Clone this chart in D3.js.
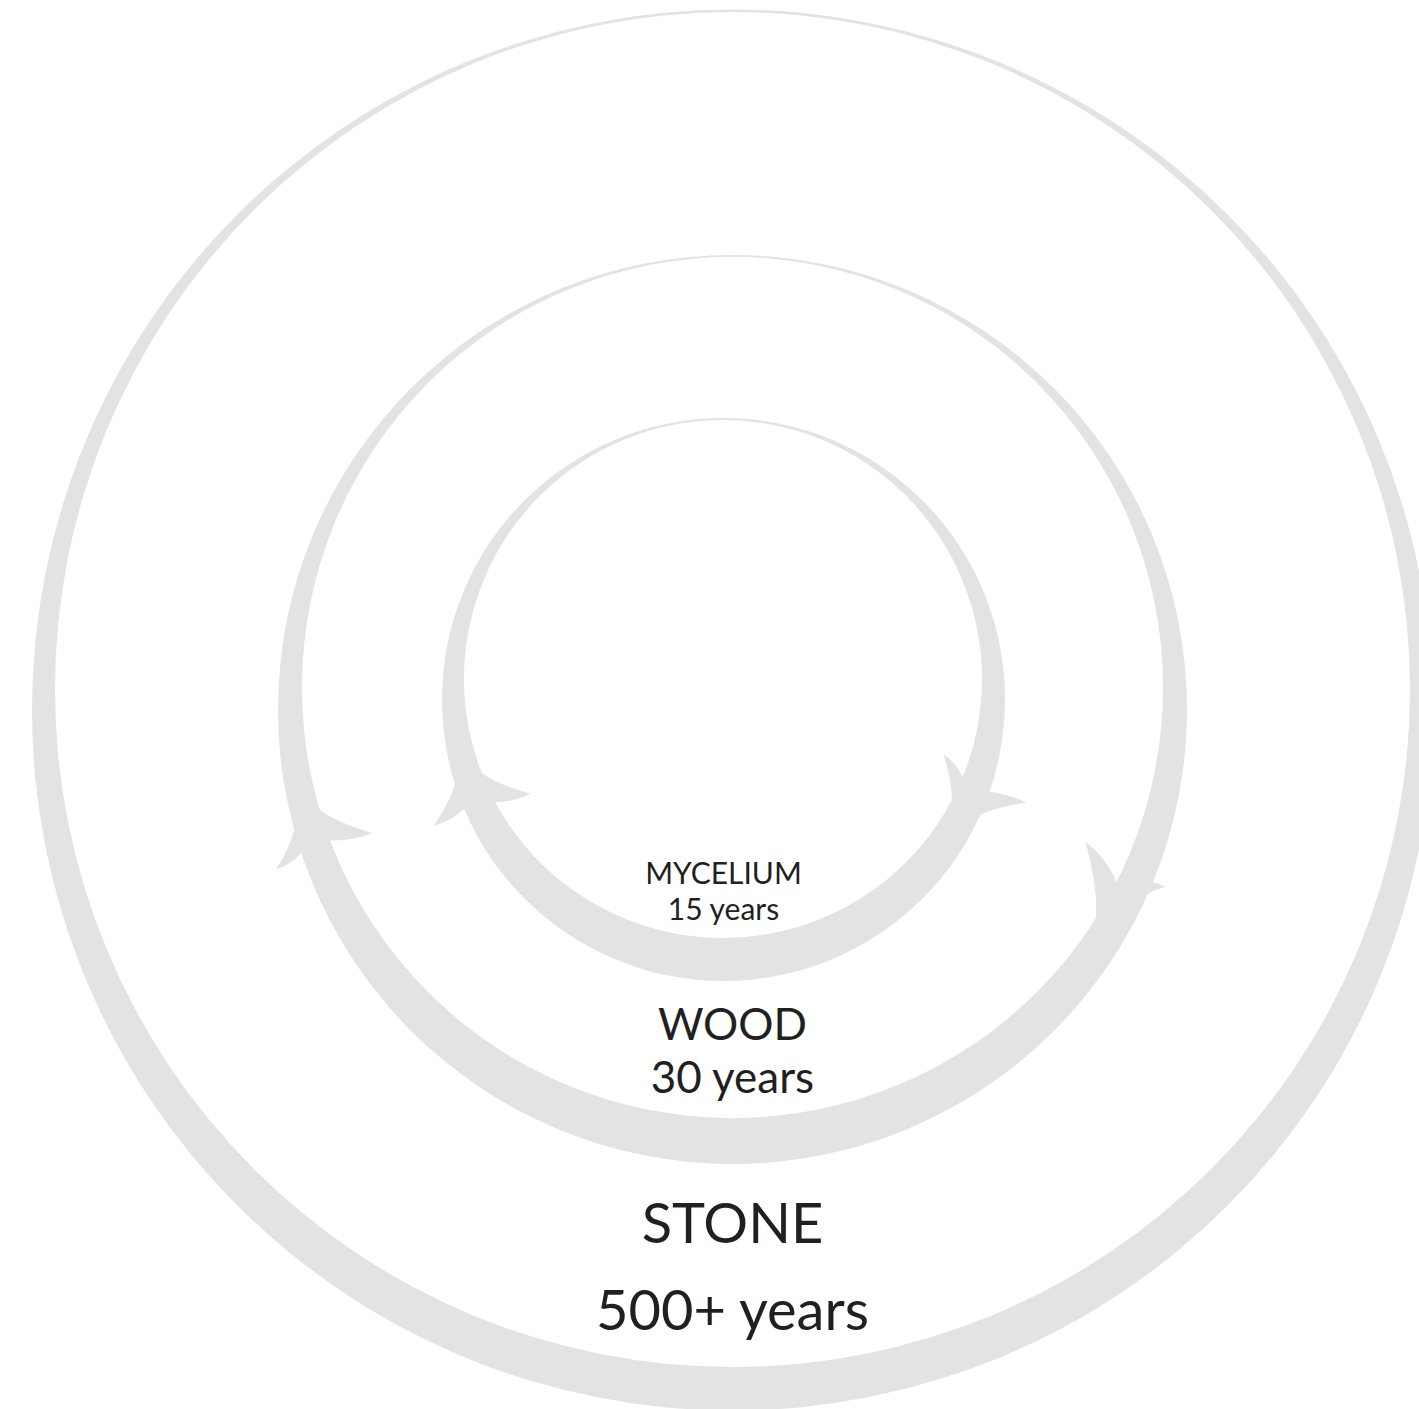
<!DOCTYPE html>
<meta charset="utf-8">
<script src="https://d3js.org/d3.v7.min.js"></script>
<style>
  body { margin: 0; background: #fff; }
</style>
<svg id="my_dataviz" width="1419" height="1409"></svg>

<script>

// Data
var materials = ["MYCELIUM", "WOOD", "STONE"];
var lifespans = ["15 years", "30 years", "500+ years"];
var years = [15, 30, 500];

// Ring layout (outer edge circle / inner edge circle), one per material
var ringOuter = [[723.5, 699.5, 281.5], [732.5, 709.5, 454.5], [732.5, 710, 700.5]];
var ringInner = [[723, 679, 259], [732.5, 687.5, 430.5], [732.5, 689.5, 677.5]];

// Arrow barbs: ring, side (+1 outer edge, -1 inner edge), angle of the front point,
// length of the base along the edge, how far the tip sweeps back and sideways
var barbs = [
  {ring: 0, side:  1, angle: 162.6, base: 27, back: 34, out: 33},
  {ring: 0, side: -1, angle: 163.1, base: 32, back: 37, out: 38},
  {ring: 0, side:  1, angle: 24.2,  base: 25, back: 30, out: 37},
  {ring: 0, side: -1, angle: 23.9,  base: 26, back: 37, out: 29},
  {ring: 1, side:  1, angle: 164.7, base: 25, back: 34, out: 28},
  {ring: 1, side: -1, angle: 166.3, base: 32, back: 37, out: 44},
  {ring: 1, side:  1, angle: 23.9,  base: 12, back: 13, out: 13},
  {ring: 1, side: -1, angle: 29.9,  base: 42, back: 59, out: 50}
];

var svg = d3.select("svg");
var ringColor = "#e3e3e3";
var textColor = "#231f20";

var outerOf = d3.scaleOrdinal().domain(materials).range(ringOuter);
var innerOf = d3.scaleOrdinal().domain(materials).range(ringInner);

function circlePath(c) {
  var p = d3.path();
  p.moveTo(c[0] + c[2], c[1]);
  p.arc(c[0], c[1], c[2], 0, 2 * Math.PI);
  p.closePath();
  return p.toString();
}

// crescent rings
svg.append("g")
  .selectAll("path")
  .data(materials)
  .enter()
  .append("path")
    .attr("d", function(d){ return circlePath(outerOf(d)) + circlePath(innerOf(d)); })
    .attr("fill-rule", "evenodd")
    .attr("fill", ringColor);

// point where a ray from the outer centre hits a circle
function hit(o, c, a) {
  var dx = Math.cos(a), dy = Math.sin(a);
  var px = o[0] - c[0], py = o[1] - c[1];
  var b = dx * px + dy * py;
  var s = -b + Math.sqrt(b * b - (px * px + py * py - c[2] * c[2]));
  return [o[0] + s * dx, o[1] + s * dy];
}

function barbPath(b) {
  var o = ringOuter[b.ring];
  var c = b.side > 0 ? o : ringInner[b.ring];
  var F = hit(o, c, b.angle * Math.PI / 180);
  var a = Math.atan2(F[1] - c[1], F[0] - c[0]);
  var n = [Math.cos(a), Math.sin(a)];
  var t = [-n[1], n[0]];             // direction of flow (clockwise)
  var ar = a - b.base / c[2];
  var R = [c[0] + c[2] * Math.cos(ar), c[1] + c[2] * Math.sin(ar)];
  var s = b.side;
  var T = [F[0] - b.back * t[0] + s * b.out * n[0], F[1] - b.back * t[1] + s * b.out * n[1]];
  var C1 = [F[0] - 0.45 * b.back * t[0] + s * 0.28 * b.out * n[0],
            F[1] - 0.45 * b.back * t[1] + s * 0.28 * b.out * n[1]];
  var C2 = [(T[0] + R[0]) / 2 - 0.12 * b.back * t[0], (T[1] + R[1]) / 2 - 0.12 * b.back * t[1]];
  var p = d3.path();
  p.moveTo(F[0] + 2 * t[0], F[1] + 2 * t[1]);
  p.lineTo(F[0] - s * 3 * n[0], F[1] - s * 3 * n[1]);
  p.lineTo(F[0], F[1]);
  p.quadraticCurveTo(C1[0], C1[1], T[0], T[1]);
  p.quadraticCurveTo(C2[0], C2[1], R[0], R[1]);
  p.lineTo(R[0] - s * 3 * n[0], R[1] - s * 3 * n[1]);
  p.closePath();
  return p.toString();
}

svg.append("g")
  .selectAll("path")
  .data(barbs)
  .enter()
  .append("path")
    .attr("d", barbPath)
    .attr("fill", ringColor);

// labels
var labelSize = [30, 44, 56];
var nameBase = [884, 1040, 1243];
var yearBase = [920, 1093, 1330];

var labels = svg.append("g")
  .attr("font-family", "Lato, 'Open Sans', sans-serif")
  .attr("fill", textColor)
  .attr("text-anchor", "middle");

labels.selectAll(".name")
  .data(materials)
  .enter()
  .append("text")
    .attr("class", "name")
    .attr("x", function(d){ return outerOf(d)[0]; })
    .attr("y", function(d, i){ return nameBase[i]; })
    .style("font-size", function(d, i){ return labelSize[i] + "px"; })
    .text(function(d){ return d; });

labels.selectAll(".years")
  .data(lifespans)
  .enter()
  .append("text")
    .attr("class", "years")
    .attr("x", function(d, i){ return ringOuter[i][0]; })
    .attr("y", function(d, i){ return yearBase[i]; })
    .style("font-size", function(d, i){ return labelSize[i] + "px"; })
    .text(function(d){ return d; });

</script>
